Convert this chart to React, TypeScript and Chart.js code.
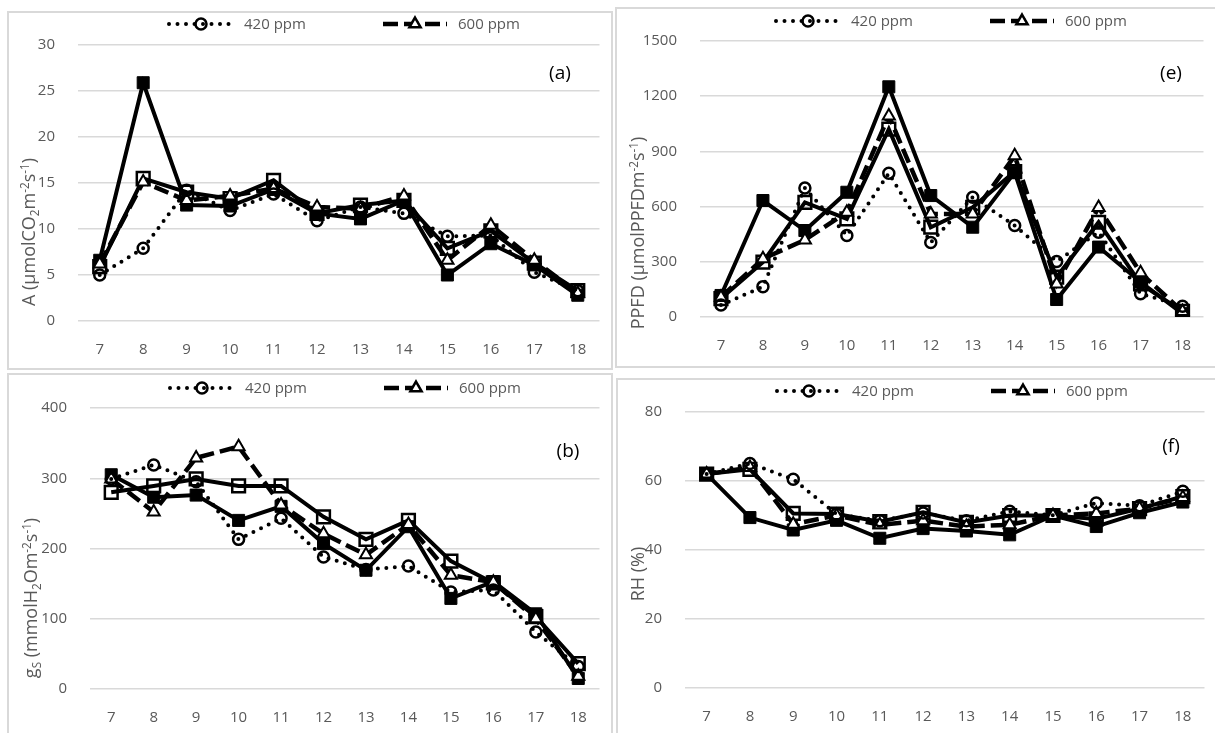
import React, { useEffect, useRef } from "react";
import { Chart, registerables } from "chart.js";

Chart.register(...registerables);

const HOURS = ["7", "8", "9", "10", "11", "12", "13", "14", "15", "16", "17", "18"];
const LEGEND_LABELS = ["420 ppm", "600 ppm"];

// Panel (a) net photosynthesis A
const A_420 = [5.0, 7.9, 14.2, 12.0, 13.8, 10.9, 12.4, 11.7, 9.2, 9.3, 5.3, 3.3];
const A_600 = [6.2, 15.1, 13.1, 13.6, 14.4, 12.4, 12.2, 13.6, 6.6, 10.4, 6.6, 3.0];
const A_OPEN_SQ = [5.9, 15.5, 14.0, 13.3, 15.3, 11.7, 12.6, 13.1, 7.9, 9.8, 6.3, 3.3];
const A_FILLED_SQ = [6.6, 25.9, 12.6, 12.5, 14.3, 11.7, 11.1, 13.1, 5.0, 8.4, 6.1, 2.8];
const A_TICKS = [0, 5, 10, 15, 20, 25, 30];

// Panel (e) PPFD
const E_420 = [65, 165, 701, 443, 781, 405, 651, 497, 302, 461, 127, 58];
const E_600 = [108, 316, 419, 569, 1093, 560, 560, 876, 180, 595, 240, 30];
const E_OPEN_SQ = [100, 298, 623, 533, 1021, 488, 596, 790, 217, 515, 180, 30];
const E_FILLED_SQ = [117, 633, 470, 678, 1251, 660, 488, 786, 95, 380, 190, 18];
const E_TICKS = [0, 300, 600, 900, 1200, 1500];

// Panel (b) stomatal conductance gs
const B_420 = [299, 319, 295, 213, 243, 188, 170, 175, 138, 141, 81, 32];
const B_600 = [299, 252, 329, 345, 262, 221, 191, 234, 162, 152, 100, 18];
const B_OPEN_SQ = [280, 289, 299, 289, 289, 245, 213, 240, 182, 151, 103, 36];
const B_FILLED_SQ = [305, 273, 276, 240, 260, 207, 169, 231, 129, 153, 107, 15];
const B_TICKS = [0, 100, 200, 300, 400];

// Panel (f) relative humidity
const F_420 = [62, 65.1, 60.5, 50.4, 48.5, 50.7, 48.5, 51.2, 50.1, 53.6, 52.8, 57];
const F_600 = [62, 63.9, 47.5, 50, 47.3, 48.5, 46.8, 47.3, 50, 50.6, 52, 55.2];
const F_OPEN_SQ = [62, 63.4, 50.6, 50.4, 48.2, 50.9, 48, 50, 50, 49, 52, 55.5];
const F_FILLED_SQ = [62, 49.4, 45.8, 48.6, 43.4, 46.2, 45.5, 44.4, 50, 46.8, 50.8, 53.9];
const F_TICKS = [0, 20, 40, 60, 80];

const FONT = "'Open Sans', 'Noto Sans', sans-serif";
const GRAY = "#595959";

type Seg = { t: "n" | "sub" | "sup"; x: string };

type PanelCfg = {
  box: { left: number; top: number; width: number; height: number };
  plot: { l: number; r: number; t: number; b: number };
  series: number[][];
  ticks: number[];
  title: Seg[];
  titlePos: [number, number];
  tag: string;
  tagPos: [number, number];
  legendPos: [number, number];
};

const PANELS: PanelCfg[] = [
  {
    box: { left: 7, top: 11, width: 606, height: 359 },
    plot: { l: 69, r: 602, t: 31, b: 308 },
    series: [A_420, A_600, A_OPEN_SQ, A_FILLED_SQ],
    ticks: A_TICKS,
    title: [
      { t: "n", x: "A (µmolCO" },
      { t: "sub", x: "2" },
      { t: "n", x: "m" },
      { t: "sup", x: "-2" },
      { t: "n", x: "s" },
      { t: "sup", x: "-1" },
      { t: "n", x: ")" },
    ],
    titlePos: [20, 219],
    tag: "(a)",
    tagPos: [551, 61],
    legendPos: [158, 11],
  },
  {
    box: { left: 615, top: 7, width: 602, height: 361 },
    plot: { l: 83, r: 598, t: 31, b: 308 },
    series: [E_420, E_600, E_OPEN_SQ, E_FILLED_SQ],
    ticks: E_TICKS,
    title: [
      { t: "n", x: "PPFD (µmolPPFDm" },
      { t: "sup", x: "-2" },
      { t: "n", x: "s" },
      { t: "sup", x: "-1" },
      { t: "n", x: ")" },
    ],
    titlePos: [21, 224],
    tag: "(e)",
    tagPos: [554, 65],
    legendPos: [157, 12],
  },
  {
    box: { left: 7, top: 373, width: 606, height: 364 },
    plot: { l: 81, r: 602, t: 33, b: 314 },
    series: [B_420, B_600, B_OPEN_SQ, B_FILLED_SQ],
    ticks: B_TICKS,
    title: [
      { t: "n", x: "g" },
      { t: "sub", x: "S" },
      { t: "n", x: " (mmolH" },
      { t: "sub", x: "2" },
      { t: "n", x: "Om" },
      { t: "sup", x: "-2" },
      { t: "n", x: "s" },
      { t: "sup", x: "-1" },
      { t: "n", x: ")" },
    ],
    titlePos: [22, 223],
    tag: "(b)",
    tagPos: [559, 77],
    legendPos: [159, 13],
  },
  {
    box: { left: 616, top: 378, width: 602, height: 359 },
    plot: { l: 67, r: 598, t: 31, b: 308 },
    series: [F_420, F_600, F_OPEN_SQ, F_FILLED_SQ],
    ticks: F_TICKS,
    title: [{ t: "n", x: "RH (%)" }],
    titlePos: [20, 194],
    tag: "(f)",
    tagPos: [553, 67],
    legendPos: [157, 11],
  },
];

function drawMarker(ctx: CanvasRenderingContext2D, style: string, x: number, y: number, r: number, fill: string, bw: number) {
  ctx.save();
  ctx.setLineDash([]);
  ctx.lineWidth = bw;
  ctx.strokeStyle = "#000";
  ctx.fillStyle = fill;
  ctx.beginPath();
  if (style === "circle") {
    ctx.arc(x, y, r, 0, Math.PI * 2);
  } else if (style === "triangle") {
    const h = r * 1.5;
    const s = r * 1.732;
    ctx.moveTo(x, y - h * 0.66);
    ctx.lineTo(x + s / 2, y + h * 0.34);
    ctx.lineTo(x - s / 2, y + h * 0.34);
    ctx.closePath();
  } else {
    const s = r * Math.SQRT1_2;
    ctx.rect(x - s, y - s, 2 * s, 2 * s);
  }
  ctx.fill();
  ctx.stroke();
  ctx.restore();
}

function drawRich(ctx: CanvasRenderingContext2D, segs: Seg[], cx: number, cy: number, size: number) {
  ctx.save();
  ctx.translate(cx, cy);
  ctx.rotate(-Math.PI / 2);
  let total = 0;
  const parts = segs.map((s) => {
    const fs = s.t === "n" ? size : size * 0.65;
    ctx.font = `${fs}px ${FONT}`;
    const w = ctx.measureText(s.x).width;
    total += w;
    return { ...s, fs, w };
  });
  let x = -total / 2;
  ctx.fillStyle = GRAY;
  ctx.textBaseline = "alphabetic";
  ctx.textAlign = "left";
  for (const p of parts) {
    ctx.font = `${p.fs}px ${FONT}`;
    const dy = p.t === "sub" ? size * 0.22 : p.t === "sup" ? -size * 0.38 : 0;
    ctx.fillText(p.x, x, size * 0.36 + dy);
    x += p.w;
  }
  ctx.restore();
}

function makeDatasets(series: number[][]) {
  return [
    {
      label: LEGEND_LABELS[0],
      data: series[0],
      borderColor: "#000",
      borderWidth: 4,
      borderDash: [0, 8.5],
      borderCapStyle: "round",
      pointStyle: "circle",
      pointRadius: 5.5,
      pointBorderWidth: 2.5,
      pointBorderColor: "#000",
      pointBackgroundColor: "rgba(0,0,0,0)",
      mk: { style: "circle", r: 5.5, fill: "rgba(0,0,0,0)" },
    },
    {
      label: LEGEND_LABELS[1],
      data: series[1],
      borderColor: "#000",
      borderWidth: 4.5,
      borderDash: [15, 6],
      borderCapStyle: "butt",
      pointStyle: "triangle",
      pointRadius: 7,
      pointBorderWidth: 2,
      pointBorderColor: "#000",
      pointBackgroundColor: "#fff",
      mk: { style: "triangle", r: 6.5, fill: "#fff" },
    },
    {
      label: "open square",
      data: series[2],
      borderColor: "#000",
      borderWidth: 4,
      pointStyle: "rect",
      pointRadius: 9,
      pointBorderWidth: 2.5,
      pointBorderColor: "#000",
      pointBackgroundColor: "rgba(0,0,0,0)",
    },
    {
      label: "filled square",
      data: series[3],
      borderColor: "#000",
      borderWidth: 4,
      pointStyle: "rect",
      pointRadius: 8.5,
      pointBorderWidth: 1,
      pointBorderColor: "#000",
      pointBackgroundColor: "#000",
    },
  ];
}

function Panel({ cfg }: { cfg: PanelCfg }) {
  const ref = useRef<HTMLCanvasElement | null>(null);
  const cw = cfg.box.width - 4;
  const ch = cfg.box.height - 4;
  useEffect(() => {
    if (!ref.current) return;
    const { plot } = cfg;
    const overlay = {
      id: "overlay",
      afterDraw(chart: any) {
        const ctx: CanvasRenderingContext2D = chart.ctx;
        drawRich(ctx, cfg.title, cfg.titlePos[0], cfg.titlePos[1], 18);
        ctx.save();
        ctx.font = `19px ${FONT}`;
        ctx.fillStyle = "#000";
        ctx.textAlign = "center";
        ctx.textBaseline = "middle";
        ctx.fillText(cfg.tag, cfg.tagPos[0], cfg.tagPos[1]);
        ctx.restore();
        for (let i = 0; i < 2; i++) {
          const ds: any = chart.data.datasets[i];
          const x0 = cfg.legendPos[0] + i * 214;
          const y = cfg.legendPos[1];
          ctx.save();
          ctx.strokeStyle = "#000";
          ctx.lineWidth = ds.borderWidth;
          ctx.setLineDash(ds.borderDash || []);
          ctx.lineCap = ds.borderCapStyle || "butt";
          ctx.beginPath();
          ctx.moveTo(x0 + 2, y);
          ctx.lineTo(x0 + 66, y);
          ctx.stroke();
          ctx.restore();
          drawMarker(ctx, ds.mk.style, x0 + 34, y, ds.mk.r, ds.mk.fill, 2.5);
          ctx.save();
          ctx.font = `15px ${FONT}`;
          ctx.fillStyle = GRAY;
          ctx.textAlign = "left";
          ctx.textBaseline = "middle";
          ctx.fillText(ds.label, x0 + 77, y + 1);
          ctx.restore();
        }
      },
    };
    const chart = new Chart(ref.current, {
      type: "line",
      data: { labels: HOURS, datasets: makeDatasets(cfg.series) as any },
      options: {
        animation: false,
        responsive: false,
        devicePixelRatio: 1,
        events: [],
        layout: { padding: { left: 0, right: cw - plot.r, top: plot.t, bottom: 0 } },
        plugins: { legend: { display: false }, tooltip: { enabled: false } },
        scales: {
          x: {
            type: "category",
            offset: true,
            grid: { display: false, drawTicks: false },
            border: { display: false },
            ticks: { padding: 20, color: GRAY, font: { family: FONT, size: 15 }, maxRotation: 0, autoSkip: false },
            afterFit: (s: any) => {
              s.height = ch - plot.b;
            },
          },
          y: {
            min: cfg.ticks[0],
            max: cfg.ticks[cfg.ticks.length - 1],
            afterBuildTicks: (axis: any) => {
              axis.ticks = cfg.ticks.map((v) => ({ value: v }));
            },
            grid: { color: "#d9d9d9", lineWidth: 1.5, drawTicks: false },
            border: { display: false },
            ticks: {
              padding: 23,
              color: GRAY,
              font: { family: FONT, size: 15 },
              callback: (v: any) => String(v),
            },
            afterFit: (s: any) => {
              s.width = plot.l;
            },
          },
        },
      } as any,
      plugins: [overlay],
    });
    return () => chart.destroy();
  }, []);
  return (
    <div
      style={{
        position: "absolute",
        left: cfg.box.left,
        top: cfg.box.top,
        width: cfg.box.width,
        height: cfg.box.height,
        border: "2px solid #d9d9d9",
        boxSizing: "border-box",
        background: "#fff",
      }}
    >
      <canvas
        ref={ref}
        width={cw}
        height={ch}
        style={{ position: "absolute", left: 0, top: 0, width: cw, height: ch }}
      />
    </div>
  );
}

export default function App() {
  return (
    <div
      style={{
        position: "absolute",
        left: 0,
        top: 0,
        width: 1215,
        height: 733,
        overflow: "hidden",
        background: "#fff",
      }}
    >
      {PANELS.map((p, i) => (
        <Panel key={i} cfg={p} />
      ))}
    </div>
  );
}
